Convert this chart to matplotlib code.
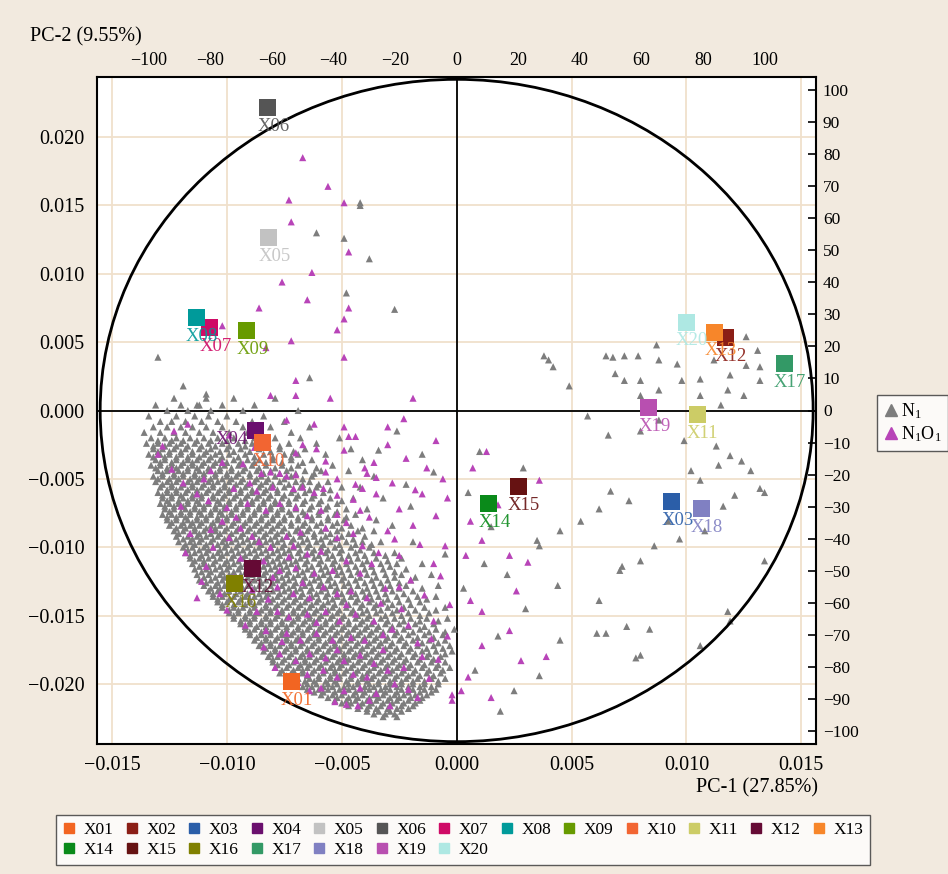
import numpy as np
import matplotlib
matplotlib.use("Agg")
import matplotlib.pyplot as plt
from matplotlib.patches import Ellipse
from matplotlib.lines import Line2D

plt.rcParams['font.family'] = ['Liberation Serif', 'DejaVu Serif']
plt.rcParams['mathtext.fontset'] = 'custom'
plt.rcParams['mathtext.rm'] = 'Liberation Serif'
plt.rcParams['mathtext.default'] = 'regular'

# ---- sample scores (top / right axes) ----
samples = ['X01', 'X02', 'X03', 'X04', 'X05', 'X06', 'X07', 'X08', 'X09', 'X10',
           'X11', 'X12', 'X13', 'X14', 'X15', 'X16', 'X17', 'X18', 'X19', 'X20']
score_pc1 = [-53.7, 87.2, 69.9, -65.3, -61.0, -61.3, -80.2, -84.5, -68.1, -62.9,
             78.1, -66.3, 83.8, 10.4, 20.1, -72.1, 106.5, 79.5, 62.4, 74.6]
score_pc2 = [-84.4, 22.8, -28.3, -6.2, 53.9, 94.3, 25.8, 28.9, 24.9, -10.1,
             -1.3, -49.3, 24.4, -29.0, -23.7, -54.0, 14.7, -30.6, 0.8, 27.5]
sample_colors = ['#f26522', '#8b1e16', '#2b5ea8', '#6a0f6e', '#c2c2c2', '#555555',
                 '#cf0a66', '#009a9a', '#679a00', '#f26532', '#cccc66', '#650a35',
                 '#f7862a', '#0a8a1a', '#661212', '#808000', '#339966', '#8080c2',
                 '#b84fb0', '#aee8e3']
# text printed next to each sample marker
point_labels = ['X01', 'X12', 'X03', 'X04', 'X05', 'X06', 'X07', 'X08', 'X09', 'X10',
                'X11', 'X12', 'X13', 'X14', 'X15', 'X16', 'X17', 'X18', 'X19', 'X20']

# ---- variable loadings (units of 1e-3) ----
# N1 variables, dense part of the cloud: (PC-2 loading, [PC-1 loadings])
n1_rows = [
    (0.9, [-12.3, -10.9, -9.7, -7.9]),
    (0.4, [-13.1, -12.0, -11.3, -10.2, -8.8]),
    (0.0, [-12.6, -11.7, -10.7, -9.3, -6.9]),
    (-0.4, [-13.4, -12.2, -11.4, -10.8, -10.0, -8.4]),
    (-0.8, [-12.9, -12.4, -11.8, -11.1, -10.4, -9.6, -8.9, -7.5]),
    (-1.2, [-13.2, -12.6, -12.0, -11.5, -10.9, -10.2, -9.3, -8.1, -6.4]),
    (-1.6, [-13.6, -12.9, -12.3, -11.8, -11.2, -10.6, -9.9, -9.1, -8.5, -7.2]),
    (-2.0, [-13.3, -12.7, -12.2, -11.6, -11.0, -10.4, -9.7, -8.8, -7.9, -6.8, -5.1]),
    (-2.2, [-13.0, -12.4, -11.9, -11.3, -10.7, -10.0, -9.2, -8.3]),
    (-2.4, [-13.5, -13.0, -12.5, -12.0, -11.4, -10.8, -10.2, -9.5, -8.9, -8.2, -7.3, -6.1]),
    (-2.6, [-13.2, -12.7, -12.2, -11.7, -11.1, -10.5, -9.9, -9.2, -8.5, -7.7]),
    (-2.8, [-13.2, -12.8, -12.3, -11.8, -11.2, -10.7, -10.0, -9.4, -8.6, -7.7, -6.6, -4.6]),
    (-3.0, [-13.0, -12.5, -12.0, -11.5, -10.9, -10.3, -9.7, -9.0, -8.1, -7.1]),
    (-3.2, [-13.4, -12.9, -12.5, -12.0, -11.5, -11.0, -10.5, -9.9, -9.2, -8.4, -7.5, -6.9, -5.7]),
    (-3.4, [-13.2, -12.7, -12.2, -11.7, -11.2, -10.7, -10.2, -9.5, -8.8, -8.0, -7.2]),
    (-3.6, [-13.1, -12.7, -12.2, -11.7, -11.3, -10.8, -10.3, -9.7, -9.1, -8.6, -8.0, -7.2, -6.3, -4.1]),
    (-3.8, [-12.9, -12.4, -11.9, -11.5, -11.0, -10.5, -10.0, -9.4, -8.8, -8.3, -7.6, -6.7]),
    (-4.0, [-13.3, -12.9, -12.4, -12.0, -11.5, -11.1, -10.6, -10.1, -9.5, -8.9, -8.3, -7.6, -6.9, -5.4]),
    (-4.2, [-13.1, -12.6, -12.2, -11.7, -11.3, -10.8, -10.3, -9.8, -9.2, -8.6, -7.9, -7.2, -6.1]),
    (-4.4, [-13.0, -12.6, -12.1, -11.7, -11.2, -10.8, -10.3, -9.8, -9.3, -8.7, -8.1, -7.4, -6.6, -5.9, -4.7]),
    (-4.6, [-12.8, -12.3, -11.9, -11.4, -11.0, -10.5, -10.0, -9.5, -9.0, -8.4, -7.7, -7.0, -6.2]),
    (-4.8, [-13.2, -12.8, -12.3, -11.9, -11.4, -11.0, -10.5, -10.0, -9.6, -9.0, -8.5, -7.9, -7.2, -6.3, -3.6]),
    (-5.0, [-13.0, -12.5, -12.1, -11.6, -11.2, -10.7, -10.2, -9.8, -9.3, -8.7, -8.2, -7.5, -6.7]),
    (-5.2, [-13.1, -12.6, -12.2, -11.7, -11.3, -10.8, -10.4, -9.9, -9.4, -8.8, -8.3, -7.7, -7.0, -6.4, -5.6]),
    (-5.4, [-12.8, -12.4, -11.9, -11.5, -11.0, -10.6, -10.1, -9.6, -9.1, -8.5, -8.0, -7.3, -6.7, -6.0]),
    (-5.6, [-12.9, -12.4, -12.0, -11.5, -11.1, -10.6, -10.1, -9.7, -9.2, -8.6, -8.1, -7.5, -6.8, -6.1, -5.0, -4.2]),
    (-5.8, [-12.6, -12.2, -11.7, -11.3, -10.8, -10.3, -9.9, -9.4, -8.9, -8.3, -7.8, -7.1, -6.4, -5.5]),
    (-6.0, [-13.0, -12.6, -12.2, -11.8, -11.3, -10.9, -10.4, -9.9, -9.4, -8.9, -8.4, -7.8, -7.2, -6.6, -5.8]),
    (-6.2, [-12.8, -12.4, -12.0, -11.5, -11.1, -10.6, -10.1, -9.6, -9.1, -8.6, -8.1, -7.5, -6.9, -6.2]),
    (-6.4, [-12.8, -12.4, -11.9, -11.5, -11.1, -10.6, -10.2, -9.7, -9.2, -8.7, -8.2, -7.6, -7.0, -6.3, -5.5, -4.5, -3.2]),
    (-6.6, [-12.6, -12.1, -11.7, -11.3, -10.8, -10.4, -9.9, -9.4, -8.9, -8.4, -7.9, -7.3, -6.6, -5.9, -5.0]),
    (-6.8, [-12.9, -12.5, -12.1, -11.7, -11.2, -10.8, -10.3, -9.9, -9.4, -8.9, -8.4, -7.9, -7.3, -6.7, -6.0, -5.2]),
    (-7.0, [-12.7, -12.3, -11.9, -11.4, -11.0, -10.5, -10.1, -9.6, -9.1, -8.6, -8.1, -7.6, -7.0, -6.3, -5.6]),
    (-7.2, [-12.7, -12.3, -11.8, -11.4, -11.0, -10.5, -10.1, -9.6, -9.1, -8.6, -8.1, -7.6, -7.0, -6.4, -5.7, -4.8, -3.9]),
    (-7.4, [-12.5, -12.0, -11.6, -11.2, -10.7, -10.3, -9.8, -9.3, -8.8, -8.3, -7.8, -7.3, -6.7, -6.0, -5.2]),
    (-7.6, [-12.8, -12.4, -12.0, -11.6, -11.1, -10.7, -10.2, -9.8, -9.3, -8.8, -8.3, -7.8, -7.2, -6.6, -6.0, -5.3, -4.4]),
    (-7.8, [-12.6, -12.2, -11.8, -11.3, -10.9, -10.4, -10.0, -9.5, -9.0, -8.5, -8.0, -7.5, -6.9, -6.3, -5.6, -4.8]),
    (-8.0, [-12.6, -12.2, -11.7, -11.3, -10.9, -10.4, -10.0, -9.5, -9.0, -8.5, -8.0, -7.5, -6.9, -6.3, -5.6, -4.9, -3.5]),
    (-8.2, [-12.4, -11.9, -11.5, -11.1, -10.6, -10.2, -9.7, -9.2, -8.7, -8.2, -7.7, -7.2, -6.6, -5.9, -5.2]),
    (-8.4, [-12.5, -12.0, -11.6, -11.2, -10.7, -10.3, -9.8, -9.3, -8.8, -8.3, -7.8, -7.2, -6.7, -6.1, -5.4, -4.6, -2.8]),
    (-8.6, [-12.2, -11.8, -11.4, -10.9, -10.5, -10.0, -9.5, -9.0, -8.5, -8.0, -7.5, -6.9, -6.4, -5.7, -5.0, -4.1]),
    (-8.8, [-12.3, -11.9, -11.4, -11.0, -10.5, -10.1, -9.6, -9.1, -8.6, -8.1, -7.6, -7.0, -6.5, -5.9, -5.2, -4.3, -3.6]),
    (-9.0, [-12.1, -11.6, -11.2, -10.7, -10.3, -9.8, -9.3, -8.8, -8.3, -7.8, -7.3, -6.7, -6.2, -5.5, -4.7]),
    (-9.2, [-12.2, -11.7, -11.3, -10.9, -10.4, -9.9, -9.4, -8.9, -8.4, -7.9, -7.4, -6.8, -6.2, -5.7, -5.0, -4.0]),
    (-9.4, [-11.9, -11.5, -11.1, -10.6, -10.1, -9.6, -9.1, -8.6, -8.1, -7.6, -7.1, -6.5, -5.9, -5.3, -4.5]),
    (-9.6, [-12.1, -11.6, -11.2, -10.7, -10.2, -9.8, -9.3, -8.8, -8.3, -7.8, -7.2, -6.7, -6.1, -5.5, -4.8, -4.1, -3.3, -1.9]),
    (-9.8, [-11.8, -11.4, -10.9, -10.4, -10.0, -9.5, -9.0, -8.5, -8.0, -7.5, -6.9, -6.4, -5.8, -5.1, -4.4, -3.7]),
    (-10.0, [-11.9, -11.5, -11.0, -10.6, -10.1, -9.6, -9.1, -8.6, -8.1, -7.6, -7.1, -6.5, -5.9, -5.3, -4.6, -3.8]),
    (-10.2, [-11.7, -11.2, -10.8, -10.3, -9.8, -9.3, -8.8, -8.3, -7.8, -7.3, -6.8, -6.2, -5.6, -5.0, -4.2]),
    (-10.4, [-11.8, -11.4, -10.9, -10.4, -10.0, -9.5, -9.0, -8.5, -8.0, -7.5, -6.9, -6.3, -5.7, -5.1, -4.4, -3.6, -2.7]),
    (-10.6, [-11.6, -11.1, -10.6, -10.2, -9.7, -9.2, -8.7, -8.2, -7.7, -7.2, -6.6, -6.0, -5.4, -4.7, -4.0, -3.1]),
    (-10.8, [-11.6, -11.2, -10.8, -10.3, -9.8, -9.3, -8.8, -8.3, -7.8, -7.3, -6.8, -6.2, -5.6, -5.0, -4.3, -3.5, -2.4]),
    (-11.0, [-11.4, -11.0, -10.5, -10.0, -9.5, -9.0, -8.5, -8.0, -7.5, -7.0, -6.5, -5.9, -5.3, -4.6, -3.9, -3.0]),
    (-11.2, [-11.5, -11.0, -10.6, -10.1, -9.7, -9.2, -8.7, -8.2, -7.7, -7.2, -6.6, -6.0, -5.4, -4.8, -4.1, -3.3, -2.6, -1.5]),
    (-11.4, [-11.2, -10.8, -10.3, -9.9, -9.4, -8.9, -8.4, -7.9, -7.4, -6.9, -6.3, -5.7, -5.1, -4.4, -3.7, -2.9]),
    (-11.6, [-11.4, -10.9, -10.5, -10.0, -9.5, -9.0, -8.6, -8.1, -7.6, -7.0, -6.5, -5.9, -5.3, -4.7, -4.0, -3.2, -2.2]),
    (-11.8, [-11.1, -10.7, -10.2, -9.7, -9.2, -8.8, -8.3, -7.8, -7.3, -6.7, -6.2, -5.6, -5.0, -4.3, -3.6, -2.7]),
    (-12.0, [-11.3, -10.8, -10.3, -9.9, -9.4, -8.9, -8.4, -7.9, -7.4, -6.9, -6.3, -5.8, -5.2, -4.6, -3.9, -3.1, -2.4, -1.1]),
    (-12.2, [-11.0, -10.5, -10.1, -9.6, -9.1, -8.6, -8.1, -7.6, -7.1, -6.6, -6.0, -5.5, -4.9, -4.2, -3.5, -2.7, -1.8]),
    (-12.4, [-11.2, -10.7, -10.2, -9.7, -9.3, -8.8, -8.3, -7.8, -7.3, -6.7, -6.2, -5.6, -5.0, -4.4, -3.7, -3.0, -2.0]),
    (-12.6, [-10.9, -10.4, -9.9, -9.5, -9.0, -8.5, -8.0, -7.5, -7.0, -6.4, -5.9, -5.3, -4.7, -4.0, -3.3, -2.5]),
    (-12.8, [-11.0, -10.5, -10.1, -9.6, -9.1, -8.6, -8.1, -7.6, -7.1, -6.6, -6.0, -5.5, -4.9, -4.3, -3.6, -2.9, -2.2, -0.8]),
    (-13.0, [-10.7, -10.3, -9.8, -9.3, -8.8, -8.3, -7.8, -7.3, -6.8, -6.3, -5.7, -5.2, -4.6, -3.9, -3.2, -2.5, -1.5]),
    (-13.2, [-10.8, -10.4, -9.9, -9.4, -8.9, -8.4, -8.0, -7.5, -7.0, -6.4, -5.9, -5.3, -4.7, -4.1, -3.5, -2.8, -1.9]),
    (-13.4, [-10.6, -10.1, -9.6, -9.1, -8.6, -8.2, -7.7, -7.2, -6.7, -6.1, -5.6, -5.0, -4.4, -3.8, -3.1, -2.3]),
    (-13.6, [-10.6, -10.2, -9.7, -9.2, -8.8, -8.3, -7.8, -7.3, -6.8, -6.3, -5.7, -5.2, -4.6, -4.0, -3.4, -2.6, -1.7, -0.9]),
    (-13.8, [-10.4, -9.9, -9.4, -9.0, -8.5, -8.0, -7.5, -7.0, -6.5, -6.0, -5.4, -4.9, -4.3, -3.7, -3.0, -2.1, -1.3]),
    (-14.0, [-10.4, -10.0, -9.5, -9.0, -8.6, -8.1, -7.6, -7.1, -6.6, -6.1, -5.6, -5.0, -4.4, -3.8, -3.2, -2.5, -1.6]),
    (-14.2, [-10.2, -9.7, -9.2, -8.8, -8.3, -7.8, -7.3, -6.8, -6.3, -5.8, -5.3, -4.7, -4.1, -3.5, -2.8, -2.0]),
    (-14.4, [-10.2, -9.7, -9.3, -8.8, -8.3, -7.9, -7.4, -6.9, -6.4, -5.9, -5.4, -4.8, -4.2, -3.6, -3.0, -2.3, -1.4, -0.5]),
    (-14.6, [-9.9, -9.5, -9.0, -8.5, -8.1, -7.6, -7.1, -6.6, -6.1, -5.6, -5.1, -4.5, -3.9, -3.3, -2.6, -1.8, -0.9]),
    (-14.8, [-9.9, -9.5, -9.0, -8.6, -8.1, -7.6, -7.1, -6.7, -6.2, -5.7, -5.2, -4.6, -4.1, -3.5, -2.8, -2.1, -1.2]),
    (-15.0, [-9.7, -9.2, -8.8, -8.3, -7.8, -7.3, -6.9, -6.4, -5.9, -5.4, -4.9, -4.3, -3.8, -3.1, -2.4, -1.6]),
    (-15.2, [-9.7, -9.2, -8.8, -8.3, -7.9, -7.4, -6.9, -6.4, -6.0, -5.5, -5.0, -4.4, -3.9, -3.3, -2.7, -2.0, -1.3, -0.4]),
    (-15.4, [-9.4, -9.0, -8.5, -8.1, -7.6, -7.1, -6.6, -6.2, -5.7, -5.2, -4.7, -4.1, -3.6, -3.0, -2.3, -1.6, -0.8]),
    (-15.6, [-9.4, -9.0, -8.5, -8.1, -7.6, -7.2, -6.7, -6.2, -5.7, -5.2, -4.7, -4.2, -3.7, -3.1, -2.5, -1.8, -1.0]),
    (-15.8, [-9.2, -8.7, -8.3, -7.8, -7.4, -6.9, -6.4, -5.9, -5.4, -4.9, -4.4, -3.9, -3.4, -2.8, -2.1, -1.4]),
    (-16.0, [-9.2, -8.8, -8.3, -7.9, -7.4, -6.9, -6.5, -6.0, -5.5, -5.0, -4.5, -4.0, -3.5, -2.9, -2.3, -1.6, -0.9, -0.1]),
    (-16.2, [-9.0, -8.5, -8.1, -7.6, -7.1, -6.7, -6.2, -5.7, -5.2, -4.7, -4.2, -3.7, -3.2, -2.6, -1.9, -1.2, -0.5]),
    (-16.4, [-9.0, -8.5, -8.1, -7.6, -7.2, -6.7, -6.2, -5.8, -5.3, -4.8, -4.3, -3.8, -3.3, -2.7, -2.1, -1.4, -0.6]),
    (-16.6, [-8.7, -8.3, -7.8, -7.4, -6.9, -6.4, -6.0, -5.5, -5.0, -4.5, -4.0, -3.5, -3.0, -2.4, -1.7, -1.0]),
    (-16.8, [-8.8, -8.3, -7.9, -7.4, -7.0, -6.5, -6.0, -5.5, -5.1, -4.6, -4.1, -3.6, -3.1, -2.5, -1.9, -1.2, -0.5]),
    (-17.0, [-8.5, -8.1, -7.6, -7.2, -6.7, -6.2, -5.7, -5.3, -4.8, -4.3, -3.8, -3.3, -2.8, -2.2, -1.5, -0.8]),
    (-17.2, [-8.6, -8.1, -7.7, -7.2, -6.8, -6.3, -5.8, -5.3, -4.9, -4.4, -3.9, -3.4, -2.9, -2.3, -1.7, -1.0, -0.3]),
    (-17.4, [-8.3, -7.9, -7.4, -7.0, -6.5, -6.0, -5.5, -5.1, -4.6, -4.1, -3.6, -3.1, -2.6, -2.0, -1.3, -0.6]),
    (-17.6, [-8.4, -7.9, -7.5, -7.0, -6.5, -6.1, -5.6, -5.1, -4.7, -4.2, -3.7, -3.2, -2.7, -2.1, -1.5, -0.9, -0.2]),
    (-17.8, [-8.1, -7.7, -7.2, -6.7, -6.3, -5.8, -5.3, -4.9, -4.4, -3.9, -3.4, -2.9, -2.4, -1.8, -1.2, -0.5]),
    (-18.0, [-8.2, -7.8, -7.3, -6.8, -6.4, -5.9, -5.4, -4.9, -4.5, -4.0, -3.5, -3.0, -2.5, -1.9, -1.3, -0.7]),
    (-18.2, [-8.0, -7.5, -7.0, -6.6, -6.1, -5.6, -5.1, -4.7, -4.2, -3.7, -3.2, -2.7, -2.2, -1.6, -1.0]),
    (-18.4, [-8.0, -7.6, -7.1, -6.6, -6.2, -5.7, -5.2, -4.8, -4.3, -3.8, -3.3, -2.8, -2.3, -1.7, -1.1, -0.5]),
    (-18.6, [-7.8, -7.3, -6.8, -6.4, -5.9, -5.4, -5.0, -4.5, -4.0, -3.5, -3.0, -2.5, -2.0, -1.4, -0.8]),
    (-18.8, [-7.9, -7.4, -6.9, -6.5, -6.0, -5.5, -5.1, -4.6, -4.1, -3.6, -3.1, -2.6, -2.1, -1.5, -0.9, -0.3]),
    (-19.0, [-7.6, -7.1, -6.7, -6.2, -5.7, -5.3, -4.8, -4.3, -3.8, -3.3, -2.8, -2.3, -1.8, -1.2, -0.6]),
    (-19.2, [-7.7, -7.2, -6.7, -6.3, -5.8, -5.3, -4.9, -4.4, -3.9, -3.4, -2.9, -2.4, -1.9, -1.3, -0.7]),
    (-19.4, [-7.4, -7.0, -6.5, -6.0, -5.5, -5.1, -4.6, -4.1, -3.6, -3.1, -2.6, -2.1, -1.6, -1.0]),
    (-19.6, [-7.4, -6.9, -6.4, -6.0, -5.5, -5.1, -4.6, -4.1, -3.7, -3.2, -2.7, -2.2, -1.7, -1.1, -0.5]),
    (-19.8, [-7.1, -6.6, -6.2, -5.7, -5.3, -4.8, -4.3, -3.9, -3.4, -2.9, -2.4, -1.9, -1.4, -0.8]),
    (-20.0, [-7.0, -6.5, -6.1, -5.6, -5.2, -4.7, -4.3, -3.8, -3.4, -2.9, -2.4, -1.9, -1.4, -0.8]),
    (-20.2, [-6.7, -6.3, -5.8, -5.4, -4.9, -4.5, -4.0, -3.6, -3.1, -2.6, -2.1, -1.6, -1.1]),
    (-20.4, [-6.5, -6.0, -5.6, -5.1, -4.7, -4.2, -3.8, -3.3, -2.9, -2.4, -1.9, -1.4, -0.9]),
    (-20.6, [-6.2, -5.8, -5.3, -4.9, -4.4, -4.0, -3.5, -3.1, -2.6, -2.1, -1.6, -1.1]),
    (-20.8, [-5.9, -5.4, -5.0, -4.5, -4.1, -3.6, -3.2, -2.7, -2.3, -1.8, -1.3]),
    (-21.0, [-5.6, -5.2, -4.7, -4.3, -3.8, -3.4, -2.9, -2.5, -2.0, -1.5]),
    (-21.2, [-5.3, -4.8, -4.4, -3.9, -3.5, -3.0, -2.6, -2.1, -1.6]),
    (-21.4, [-5.0, -4.6, -4.1, -3.7, -3.2, -2.8, -2.3, -1.8]),
    (-21.6, [-4.7, -4.2, -3.8, -3.3, -2.9, -2.4, -1.9]),
    (-21.8, [-4.3, -3.9, -3.5, -3.0, -2.6, -2.1]),
    (-22.0, [-3.9, -3.4, -2.9, -2.4]),
    (-22.2, [-3.6, -3.1, -2.7]),
    (-22.4, [-3.2, -2.6]),
]
# N1 variables outside the dense cloud: (PC-1, PC-2)
n1_sparse = [
    (-4.2, 15.2), (-4.2, 15.0), (-6.1, 13.0), (-4.9, 12.6), (-3.8, 11.1), (-4.8, 8.6),
    (-2.7, 7.4), (-13.0, 3.9), (-11.9, 1.8), (-10.9, 1.2), (-11.2, 0.4), (-6.4, 2.4),
    (3.8, 4.0), (4.0, 3.7), (4.2, 3.2), (4.9, 1.8), (6.5, 4.0), (6.8, 3.9), (7.3, 4.0),
    (7.9, 4.0), (8.7, 4.8), (8.8, 3.7), (6.9, 2.7), (8.0, 2.2), (8.8, 1.5), (9.6, 3.4),
    (9.8, 2.2), (10.6, 2.3), (11.2, 3.7), (11.9, 2.6), (12.6, 5.4), (13.1, 4.4),
    (13.2, 3.2), (13.2, 2.2), (12.6, 3.3), (10.6, 1.1), (11.5, 0.4), (11.8, 1.5),
    (12.5, 1.1), (8.0, 1.1), (7.3, 2.2), (5.7, -0.4), (6.6, -1.8), (8.0, -1.5),
    (8.8, -0.7), (9.9, -2.2), (11.3, -2.6), (11.9, -3.3), (11.4, -4.0), (12.4, -3.7),
    (12.8, -4.4), (13.2, -5.7), (12.1, -6.2), (11.6, -7.0), (10.8, -8.8), (9.7, -9.4),
    (9.2, -8.1), (8.6, -9.9), (8.0, -11.0), (7.2, -11.4), (10.2, -4.4), (10.6, -5.1),
    (7.5, -6.6), (6.7, -5.9), (6.2, -7.2), (5.4, -8.1), (4.5, -8.8), (3.6, -9.9),
    (6.2, -13.9), (7.1, -11.7), (6.1, -16.3), (6.5, -16.3), (7.4, -15.8), (8.4, -16.0),
    (10.6, -17.2), (11.9, -15.4), (11.8, -14.7), (13.4, -11.0), (13.4, -6.0), (8.0, -17.9),
    (7.8, -18.1), (4.5, -16.8), (3.6, -19.4), (1.9, -22.0), (0.5, -6.0), (1.5, -8.5),
    (2.2, -12.0), (3.0, -14.5), (1.8, -16.5), (0.8, -19.0), (2.5, -20.5), (3.5, -9.5),
    (4.4, -12.8), (2.9, -4.2), (1.0, -3.0), (-1.0, -4.5), (-2.0, -7.0), (-0.5, -10.5),
    (-1.5, -3.2), (0.3, -13.0), (1.2, -11.2), (-2.6, -1.5), (-3.4, -2.9), (-2.2, -5.4),
]
# N1O1 variables: (PC-1, PC-2)
n1o1_pts = [
    (-6.7, 18.5), (-5.6, 16.4), (-7.3, 15.4), (-4.9, 15.2), (-7.2, 13.8), (-4.7, 11.6),
    (-6.3, 10.1), (-7.6, 9.4), (-6.5, 8.1), (-4.7, 7.5), (-8.6, 7.5), (-4.9, 6.7),
    (-10.2, 6.2), (-8.3, 4.6), (-7.2, 5.1), (-5.2, 5.9), (-4.9, 3.9), (-7.0, 2.2),
    (-7.0, 1.1), (-8.1, 1.1), (-5.5, 0.9), (-13.0, -3.2), (-3.0, -1.2), (-3.0, -2.5),
    (-2.3, -0.6), (-1.9, 0.9), (-0.9, -2.2), (-3.5, -4.9), (-1.5, -6.1), (-0.4, -6.4),
    (-0.9, -7.7), (0.6, -8.1), (-0.5, -9.9), (-2.5, -10.6), (0.4, -10.6), (-0.7, -12.1),
    (0.6, -13.9), (1.1, -9.5), (2.3, -10.6), (3.1, -11.1), (2.3, -16.1), (2.8, -18.3),
    (0.2, -20.5), (-0.2, -21.2), (1.1, -14.7), (1.1, -17.2), (3.9, -18.0), (3.6, -5.1),
    (1.3, -3.0), (0.7, -4.2), (1.8, -6.9), (2.6, -13.2), (0.5, -19.5), (1.5, -21.0),
    (-7.4, -0.7), (-6.2, -1.0), (-4.9, -1.2), (-6.7, -2.5), (-6.1, -2.8), (-7.0, -3.1),
    (-5.7, -3.7), (-4.7, -1.9), (-4.4, -1.9), (-4.9, -2.9), (-3.6, -3.8), (-10.2, -3.8),
    (-10.7, -4.4), (-9.3, -3.9), (-8.5, -4.6), (-8.1, -4.5), (-7.7, -4.6), (-7.4, -4.8),
    (-7.0, -4.7), (-5.7, -4.5), (-5.2, -5.0), (-4.0, -4.2), (-3.9, -4.6), (-9.0, -5.3),
    (-8.7, -5.9), (-8.0, -5.6), (-7.1, -5.7), (-6.7, -5.6), (-6.2, -6.0), (-5.8, -5.7),
    (-5.2, -6.2), (-4.5, -6.5), (-4.4, -5.4), (-4.1, -5.7), (-3.5, -6.1), (-11.3, -6.1),
    (-10.8, -6.6), (-10.0, -7.1), (-9.1, -6.8), (-8.3, -7.3), (-7.7, -6.8), (-7.0, -7.1),
    (-6.5, -7.7), (-5.9, -7.3), (-5.2, -7.6), (-4.8, -8.2), (-4.2, -7.3), (-3.8, -7.8),
    (-10.2, -8.1), (-9.6, -7.8), (-11.1, -12.5), (-10.9, -11.4), (-11.3, -13.7),
    (-10.3, -13.4), (-9.9, -9.3), (-8.9, -9.2), (-8.1, -10.0), (-7.1, -9.9), (-7.4, -9.2),
    (-6.5, -10.5), (-5.9, -10.3), (-5.2, -9.3), (-4.5, -9.0), (-4.1, -9.9), (-4.8, -11.0),
    (-3.7, -11.2), (-4.2, -11.9), (-5.4, -11.7), (-6.2, -11.9), (-7.0, -11.5), (-7.7, -11.7),
    (-7.8, -12.9), (-7.1, -13.4), (-6.4, -13.7), (-5.8, -12.9), (-5.2, -13.4), (-4.6, -13.2),
    (-3.9, -13.7), (-8.7, -14.7), (-7.8, -14.7), (-7.3, -15.1), (-6.5, -14.9), (-5.7, -14.7),
    (-5.1, -15.4), (-4.4, -14.9), (-3.6, -15.4), (-8.3, -16.1), (-7.4, -16.3), (-6.8, -16.8),
    (-6.1, -16.3), (-5.4, -16.8), (-4.6, -16.6), (-4.0, -16.8), (-7.7, -17.8), (-7.0, -18.3),
    (-6.4, -17.8), (-5.7, -18.1), (-4.9, -18.3), (-4.2, -17.9), (-3.6, -18.5), (-6.5, -19.3),
    (-5.8, -19.0), (-5.2, -19.5), (-4.5, -19.3), (-3.9, -19.5), (-5.9, -20.3), (-4.9, -20.5),
    (-4.2, -20.3), (-3.5, -20.7), (-4.8, -21.5), (-3.8, -21.2), (-2.2, -3.5), (-1.3, -4.2),
    (-0.6, -5.0), (-2.8, -5.3), (-1.8, -5.8), (-2.5, -7.2), (-1.9, -8.4), (-3.0, -8.8),
    (-1.6, -9.8), (-1.0, -11.2), (-2.0, -12.4), (-3.1, -13.0), (-1.4, -13.5), (-0.3, -14.2),
    (-2.4, -14.5), (-1.0, -15.4), (-2.8, -16.0), (-0.4, -16.5), (-1.7, -17.0), (-3.2, -17.5),
    (-0.8, -18.2), (-2.3, -18.8), (-1.2, -19.6), (-2.7, -20.0), (-0.2, -20.8), (-1.7, -21.0),
    (-2.9, -21.6), (-12.4, -4.3), (-12.0, -7.0), (-11.6, -9.0), (-11.8, -10.4), (-10.6, -10.0),
    (-9.4, -10.8), (-8.4, -11.0), (-9.7, -12.2), (-8.9, -13.1), (-10.0, -14.6), (-9.2, -15.7),
    (-8.2, -13.8), (-7.6, -16.9), (-8.4, -17.3), (-6.9, -19.9), (-5.3, -21.3), (-6.1, -15.5),
    (-4.8, -14.2), (-3.3, -14.1), (-2.5, -12.9), (-3.4, -10.4), (-2.7, -9.4), (-5.7, -8.6),
    (-6.8, -8.9), (-9.4, -8.6), (-10.7, -8.7), (-11.9, -5.3), (-12.8, -2.6), (-11.7, -1.0),
    (-9.9, -1.8), (-8.8, -2.7), (-9.7, -5.7), (-11.0, -5.0), (-3.2, -16.4), (-2.1, -15.7),
    (-1.5, -18.0), (-3.0, -19.0), (-2.1, -20.4), (-1.1, -16.7), (-4.3, -21.6), (-6.4, -20.5),
    (-7.9, -18.8), (-5.2, -17.5), (-6.7, -12.6), (-8.0, -12.2), (-7.3, -10.7), (-8.6, -9.6),
    (-12.3, -1.5),
]

# ---- figure ----
W, H = 948, 874
fig = plt.figure(figsize=(W / 100, H / 100), dpi=100, facecolor='#f2eadf')
rect = [97.3 / W, 1 - 744 / H, (816 - 97.3) / W, (744 - 77) / H]

ax = fig.add_axes(rect)
ax.set_facecolor('white')
ax.set_xlim(-0.01564, 0.01564)
ax.set_ylim(-0.0244, 0.0244)
xt = [-0.015, -0.010, -0.005, 0.0, 0.005, 0.010, 0.015]
yt = [-0.020, -0.015, -0.010, -0.005, 0.0, 0.005, 0.010, 0.015, 0.020]
ax.set_xticks(xt)
ax.set_yticks(yt)
ax.set_xticklabels([f'{v:.3f}'.replace('-', '\u2212') for v in xt])
ax.set_yticklabels([f'{v:.3f}'.replace('-', '\u2212') for v in yt])
ax.tick_params(axis='both', length=0, labelsize=14.5, pad=9)
ax.grid(True, color='#f0e0cc', lw=1.3, zorder=0)
ax.set_axisbelow(True)
for s in ax.spines.values():
    s.set_linewidth(1.5)
    s.set_color('black')

ax.axhline(0, color='black', lw=1.3, zorder=1)
ax.axvline(0, color='black', lw=1.3, zorder=1)
ax.add_patch(Ellipse((0.5, 0.5), 0.992, 0.993, transform=ax.transAxes,
                     fill=False, lw=2.0, color='black', zorder=6))

gx = [x for y, xs in n1_rows for x in xs] + [p[0] for p in n1_sparse]
gy = [y for y, xs in n1_rows for x in xs] + [p[1] for p in n1_sparse]
ax.scatter(np.array(gx) * 1e-3, np.array(gy) * 1e-3, marker='^', s=26,
           color='#7d7d7d', edgecolors='none', zorder=2)
mx = np.array([p[0] for p in n1o1_pts]) * 1e-3
my = np.array([p[1] for p in n1o1_pts]) * 1e-3
ax.scatter(mx, my, marker='^', s=26, color='#b844b8', edgecolors='none', zorder=3)

# score axes on top / right
ax2 = fig.add_axes(rect, frameon=False)
ax2.patch.set_alpha(0)
ax2.set_xlim(-116.7, 116.7)
ax2.set_ylim(-103.9, 103.9)
ax2.xaxis.tick_top()
ax2.yaxis.tick_right()
ax2.set_xticks(range(-100, 101, 20))
ax2.set_yticks(range(-100, 101, 10))
ax2.set_xticklabels([str(v).replace('-', '\u2212') for v in range(-100, 101, 20)])
ax2.set_yticklabels([str(v).replace('-', '\u2212') for v in range(-100, 101, 10)])
ax2.tick_params(axis='x', length=0, labelsize=13, pad=6)
ax2.tick_params(axis='y', direction='in', length=6, width=1.2, labelsize=12.5, pad=5)

ax2.scatter(score_pc1, score_pc2, marker='s', s=150, c=sample_colors,
            edgecolors='none', zorder=7)
label_offsets = {3: (-17.5, -6.5)}
for i, (x, y) in enumerate(zip(score_pc1, score_pc2)):
    dx, dy = label_offsets.get(i, (4, -13.5))
    ax2.annotate(point_labels[i], (x, y), xytext=(dx, dy), textcoords='offset points',
                 ha='center', va='center', fontsize=13.5, color=sample_colors[i],
                 alpha=0.9, zorder=8)

# axis titles
fig.text(30 / W, 1 - 37 / H, 'PC-2 (9.55%)', fontsize=14.5, va='center', ha='left')
fig.text(818 / W, 1 - 788 / H, 'PC-1 (27.85%)', fontsize=14.5, va='center', ha='right')

# variable-type legend
type_handles = [
    Line2D([], [], marker='^', ls='none', color='#7d7d7d', markersize=8, label=r'N$_1$'),
    Line2D([], [], marker='^', ls='none', color='#b844b8', markersize=8, label=r'N$_1$O$_1$'),
]
leg1 = fig.legend(handles=type_handles, loc='upper left',
                  bbox_to_anchor=(877 / W, 1 - 395 / H), frameon=True, fancybox=False,
                  edgecolor='#333333', fontsize=13, handlelength=0.8, handletextpad=0.2,
                  borderpad=0.35, labelspacing=0.2, borderaxespad=0)
leg1.get_frame().set_linewidth(1.0)

# sample legend, filled row by row (13 per row)
sample_handles = [Line2D([], [], marker='s', ls='none', color=c, markersize=7.5, label=n)
                  for n, c in zip(samples, sample_colors)]
ncol = 13
ordered = []
for j in range(ncol):
    ordered.append(sample_handles[j])
    if j + ncol < len(sample_handles):
        ordered.append(sample_handles[j + ncol])
leg2 = fig.legend(handles=ordered, loc='upper left', ncol=ncol,
                  bbox_to_anchor=(56 / W, 1 - 815 / H), frameon=True, fancybox=False,
                  edgecolor='#333333', fontsize=12.5, handlelength=0.7,
                  handletextpad=0.5, columnspacing=0.68, borderpad=0.4,
                  labelspacing=0.2, borderaxespad=0)
leg2.get_frame().set_linewidth(1.0)

fig.savefig('out.png', dpi=100, facecolor=fig.get_facecolor())
